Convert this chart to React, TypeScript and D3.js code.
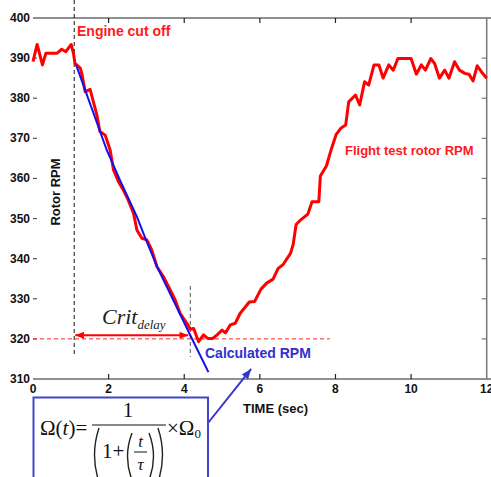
import React from "react";
import * as d3 from "d3";

// flight test rotor RPM vs time (sec)
const flightRpm: [number, number][] = [
  [0.0, 389.1], [0.11, 393.4], [0.25, 388.3], [0.34, 391.2], [0.63, 391.2],
  [0.76, 392.2], [0.87, 391.6], [1.01, 393.4], [1.07, 391.2], [1.11, 388.7],
  [1.25, 387.5], [1.29, 386.2], [1.38, 381.6], [1.51, 382.2], [1.69, 375.8],
  [1.77, 371.7], [1.91, 370.8], [2.04, 367.1], [2.13, 362.1], [2.26, 359.2],
  [2.39, 357.1], [2.52, 354.6], [2.66, 351.3], [2.75, 347.1], [2.88, 345.1],
  [3.01, 344.7], [3.14, 342.2], [3.28, 338.0], [3.45, 335.5], [3.63, 332.2],
  [3.76, 329.7], [3.89, 326.4], [4.07, 323.9], [4.16, 322.4], [4.25, 322.6],
  [4.38, 319.3], [4.51, 321.0], [4.62, 320.1], [4.75, 320.1], [4.87, 321.0],
  [5.0, 322.2], [5.09, 321.5], [5.22, 323.5], [5.35, 323.9], [5.48, 326.4],
  [5.62, 328.0], [5.72, 329.2], [5.86, 329.3], [6.03, 332.4], [6.18, 333.9],
  [6.35, 334.9], [6.48, 337.5], [6.62, 338.6], [6.81, 341.3], [6.88, 343.5],
  [6.96, 348.5], [7.05, 349.4], [7.27, 351.1], [7.38, 354.2], [7.56, 354.2],
  [7.6, 360.6], [7.76, 363.1], [7.89, 367.3], [8.02, 371.0], [8.15, 372.6],
  [8.27, 373.3], [8.35, 379.1], [8.53, 380.8], [8.64, 378.3], [8.77, 384.1],
  [8.88, 383.3], [9.02, 388.3], [9.15, 388.3], [9.26, 385.0], [9.41, 388.3],
  [9.53, 387.0], [9.65, 389.9], [10.0, 389.9], [10.14, 386.0], [10.27, 388.3],
  [10.38, 387.0], [10.52, 389.9], [10.62, 388.7], [10.75, 385.0], [10.89, 387.0],
  [11.0, 385.0], [11.15, 389.1], [11.28, 387.0], [11.42, 386.2], [11.53, 386.0],
  [11.64, 384.3], [11.75, 388.1], [11.89, 386.2], [12.0, 385.0],
];

// calculated RPM after engine cut off
const calcRpm: [number, number][] = [
  [1.14, 388.3], [1.95, 367.1], [2.3, 359.6], [2.75, 350.4],
  [2.97, 345.1], [3.28, 338.0], [4.16, 320.9], [4.64, 311.7],
];

const xTicks = [0, 2, 4, 6, 8, 10, 12];
const yTicks = [310, 320, 330, 340, 350, 360, 370, 380, 390, 400];

const cutOffTime = 1.09;
const critTime = 4.16;
const critRpm = 320;

const W = 491;
const H = 477;
const sans = "'Liberation Sans', Arial, sans-serif";
const serif = "'Liberation Serif', 'Times New Roman', serif";

const x = d3.scaleLinear().domain([0, 12]).range([33, 486.7]);
const y = d3.scaleLinear().domain([310, 400]).range([379, 18]);

const line = d3
  .line<[number, number]>()
  .x(d => x(d[0]))
  .y(d => y(d[1]));

// curved bracket, bulging left (dir=-1) or right (dir=1)
const paren = (cx: number, top: number, bot: number, dir: number) => {
  const mid = (top + bot) / 2;
  return `M${cx} ${top} Q${cx + dir * 9} ${mid} ${cx} ${bot}`;
};

const App = () => {
  const [x0, x1] = x.range();
  const [yb, yt] = y.range();
  return (
    <svg
      width={W}
      height={H}
      style={{ position: "absolute", left: 0, top: 0, background: "#fff" }}
    >
      <defs>
        <marker id="redHead" viewBox="0 0 10 8" refX="10" refY="4"
          markerWidth="9" markerHeight="7" markerUnits="userSpaceOnUse"
          orient="auto-start-reverse">
          <path d="M0,0 L10,4 L0,8 Z" fill="#ff0000" />
        </marker>
        <marker id="blueHead" viewBox="0 0 10 8" refX="10" refY="4"
          markerWidth="10" markerHeight="8" markerUnits="userSpaceOnUse"
          orient="auto">
          <path d="M0,0 L10,4 L0,8 Z" fill="#3535d0" />
        </marker>
      </defs>

      {/* frame */}
      <g stroke="#222" strokeWidth={1.2}>
        <line x1={x0} x2={W} y1={yt} y2={yt} />
        <line x1={x0} x2={W} y1={yb} y2={yb} />
        <line x1={x1} x2={x1} y1={yt} y2={yb} stroke="#777" strokeWidth={1.5} />
        {xTicks.slice(1, -1).map(t => (
          <g key={t}>
            <line x1={x(t)} x2={x(t)} y1={yb} y2={yb - 5} />
            <line x1={x(t)} x2={x(t)} y1={yt} y2={yt + 5} />
          </g>
        ))}
        {yTicks.slice(1, -1).map(v => (
          <g key={v}>
            <line x1={x0} x2={x0 + 4} y1={y(v)} y2={y(v)} stroke="#555" />
            <line x1={x1} x2={x1 - 5} y1={y(v)} y2={y(v)} stroke="#777" />
          </g>
        ))}
      </g>

      <g fontFamily={sans} fontWeight="bold" fontSize={12} fill="#111">
        {yTicks.map(v => (
          <text key={v} x={30} y={y(v)} textAnchor="end" dominantBaseline="central">
            {v}
          </text>
        ))}
        {xTicks.map(t => (
          <text key={t} x={x(t)} y={yb + 14} textAnchor="middle">
            {t}
          </text>
        ))}
        <text x={243} y={413} fontSize={13}>TIME (sec)</text>
        <text
          transform="translate(60,192) rotate(-90)"
          textAnchor="middle"
          fontSize={13}
        >
          Rotor RPM
        </text>
      </g>

      {/* reference lines */}
      <line x1={x(cutOffTime)} x2={x(cutOffTime)} y1={0} y2={y(316)}
        stroke="#111" strokeWidth={1} strokeDasharray="4 3" />
      <line x1={x(critTime)} x2={x(critTime)} y1={y(333.2)} y2={y(315.5)}
        stroke="#555" strokeWidth={1} strokeDasharray="4 3" />
      <line x1={x0} x2={x(7.85)} y1={y(critRpm)} y2={y(critRpm)}
        stroke="#ff2020" strokeWidth={1} strokeDasharray="4 3" />

      {/* series */}
      <path d={line(flightRpm) ?? ""} fill="none" stroke="#ff0000"
        strokeWidth={3} strokeLinejoin="round" />
      <path d={line(calcRpm) ?? ""} fill="none" stroke="#1010f0"
        strokeWidth={2} />

      {/* crit delay arrow */}
      <line x1={x(cutOffTime) + 1} x2={x(critTime) - 2} y1={y(320.9)} y2={y(320.9)}
        stroke="#ff0000" strokeWidth={2}
        markerStart="url(#redHead)" markerEnd="url(#redHead)" />
      <text x={102} y={324} fontFamily={serif} fontStyle="italic" fontSize={22} fill="#222">
        Crit
        <tspan fontSize={13} dy={5}>delay</tspan>
      </text>

      {/* labels */}
      <g fontFamily={sans} fontWeight="bold">
        <text x={77} y={36} fontSize={14} fill="#ff1a1a">Engine cut off</text>
        <text x={345} y={155} fontSize={13} fill="#ff1a1a">Flight test rotor RPM</text>
        <text x={205} y={358} fontSize={14} fill="#3030d0">Calculated RPM</text>
      </g>

      {/* formula box */}
      <line x1={208} y1={423} x2={x(5.77)} y2={y(312.5)}
        stroke="#3535d0" strokeWidth={2} markerEnd="url(#blueHead)" />
      <rect x={33.5} y={397.5} width={174.5} height={100} fill="#fff"
        stroke="#4343d0" strokeWidth={2} />
      <g fontFamily={serif} fontSize={21} fill="#111">
        <text x={40} y={435}>
          Ω(<tspan fontStyle="italic">t</tspan>)=
        </text>
        <text x={128} y={417} textAnchor="middle">1</text>
        <line x1={92} x2={166} y1={425} y2={425} stroke="#111" strokeWidth={1.1} />
        <text x={102} y={458}>1+</text>
        <text x={140.5} y={447} textAnchor="middle" fontSize={17} fontStyle="italic">t</text>
        <line x1={134} x2={147} y1={452} y2={452} stroke="#111" strokeWidth={1} />
        <text x={140.5} y={470} textAnchor="middle" fontSize={17} fontStyle="italic">τ</text>
        <text x={167} y={435}>
          ×Ω<tspan fontSize={13} dy={3}>0</tspan>
        </text>
        <g fill="none" stroke="#222" strokeWidth={1.4}>
          <path d={paren(99, 428, 482, -1)} />
          <path d={paren(158, 428, 482, 1)} />
          <path d={paren(132, 433, 480, -1)} />
          <path d={paren(149, 433, 480, 1)} />
        </g>
      </g>
    </svg>
  );
};

export default App;
